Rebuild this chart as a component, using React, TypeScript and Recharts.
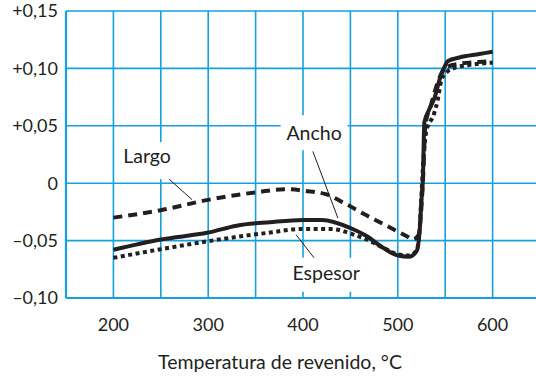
import {
  LineChart,
  Line,
  XAxis,
  YAxis,
  CartesianGrid,
  ReferenceDot,
  ReferenceLine,
  Label,
} from 'recharts';

// temperature (°C), dimensional change
const largo = [
  [200, -0.03], [250, -0.0235], [300, -0.0145], [350, -0.008], [382, -0.0052],
  [403, -0.0067], [424, -0.0096], [445, -0.018], [467, -0.028], [488, -0.037],
  [509, -0.046], [516, -0.049], [522, -0.045], [525, -0.02], [527, 0.01],
  [529, 0.05], [535, 0.068], [543, 0.09], [550, 0.1005], [565, 0.104],
  [585, 0.1055], [600, 0.1065],
];

const ancho = [
  [200, -0.058], [250, -0.049], [300, -0.043], [330, -0.037], [365, -0.034],
  [400, -0.032], [420, -0.032], [450, -0.039], [467, -0.046], [484, -0.056],
  [500, -0.063], [512, -0.064], [520, -0.059], [523, -0.042], [525, -0.014],
  [526.5, 0.004], [528, 0.053], [533, 0.064], [539, 0.075], [544, 0.09],
  [548, 0.099], [553, 0.1065], [565, 0.1095], [586, 0.1125], [600, 0.1145],
];

const espesor = [
  [200, -0.065], [250, -0.0575], [300, -0.0505], [365, -0.043], [396, -0.04],
  [431, -0.04], [452, -0.0444], [467, -0.049], [484, -0.056], [500, -0.062],
  [512, -0.063], [520, -0.058], [523, -0.04], [525, -0.01], [527, 0.02],
  [530, 0.045], [538, 0.06], [542, 0.072], [546, 0.09], [552, 0.097],
  [560, 0.1005], [575, 0.103], [600, 0.105],
];

const xGrid = [150, 200, 250, 300, 350, 400, 450, 500, 550, 600, 650];
const xLabels = [200, 300, 400, 500, 600];
const yTicks = [-0.1, -0.05, 0, 0.05, 0.1, 0.15];
const yLabels = ['–0,10', '–0,05', '0', '+0,05', '+0,10', '+0,15'];

const toRows = (pts: number[][]) => pts.map(([t, v]) => ({ t, v }));

const BLUE = '#16a1dd';
const INK = '#231f20';
const FONT = 'Lato, "Open Sans", sans-serif';

function TagBox(props: any) {
  const { cx, cy, text, w, h, dy = 0 } = props;
  return (
    <g>
      <rect x={cx - w / 2} y={cy - h / 2 + dy} width={w} height={h} fill="#fff" />
      <text
        x={cx}
        y={cy}
        dy="0.36em"
        textAnchor="middle"
        fontFamily={FONT}
        fontSize={19.5}
        fill={INK}
      >
        {text}
      </text>
    </g>
  );
}

export default function App() {
  return (
    <div
      style={{
        position: 'absolute',
        left: 0,
        top: 0,
        width: 536,
        height: 378,
        overflow: 'hidden',
        background: '#fff',
      }}
    >
      <LineChart
        width={545}
        height={378}
        margin={{ top: 11, right: 5, left: 0, bottom: 0 }}
      >
        <CartesianGrid stroke={BLUE} strokeWidth={1.6} />
        <XAxis
          type="number"
          dataKey="t"
          domain={[150, 650]}
          ticks={xGrid}
          interval={0}
          height={80}
          tickLine={false}
          tickMargin={14}
          axisLine={{ stroke: BLUE, strokeWidth: 2.2 }}
          tick={{ fill: INK, fontSize: 18, fontFamily: FONT }}
          tickFormatter={(v: number) => (xLabels.includes(v) ? String(v) : '')}
        >
          <Label
            value="Temperatura de revenido, °C"
            position="insideBottom"
            offset={9}
            dx={-23}
            fill={INK}
            fontSize={19.5}
            fontFamily={FONT}
          />
        </XAxis>
        <YAxis
          type="number"
          domain={[-0.1, 0.15]}
          ticks={yTicks}
          interval={0}
          width={66}
          tickLine={false}
          axisLine={{ stroke: BLUE, strokeWidth: 2.2 }}
          tick={{ fill: INK, fontSize: 18, fontFamily: FONT }}
          tickFormatter={(v: number) => yLabels[yTicks.findIndex((t) => Math.abs(t - v) < 1e-9)] ?? ''}
        />

        <ReferenceDot
          x={235.5}
          y={0.024}
          ifOverflow="visible"
          shape={(p: any) => <TagBox {...p} text="Largo" w={62} h={37} dy={5} />}
        />
        <ReferenceDot
          x={411.7}
          y={0.044}
          ifOverflow="visible"
          shape={(p: any) => <TagBox {...p} text="Ancho" w={67} h={35} />}
        />
        <ReferenceDot
          x={424.4}
          y={-0.078}
          ifOverflow="visible"
          shape={(p: any) => <TagBox {...p} text="Espesor" w={80} h={34} dy={2} />}
        />

        <ReferenceLine
          segment={[{ x: 251.3, y: 0.0091 }, { x: 283, y: -0.0144 }]}
          stroke={INK}
          strokeWidth={1}
        />
        <ReferenceLine
          segment={[{ x: 410.4, y: 0.0277 }, { x: 436.8, y: -0.0303 }]}
          stroke={INK}
          strokeWidth={1}
        />
        <ReferenceLine
          segment={[{ x: 392.7, y: -0.0449 }, { x: 414.6, y: -0.0681 }]}
          stroke={INK}
          strokeWidth={1}
        />

        <Line
          data={toRows(largo)}
          dataKey="v"
          type="monotone"
          stroke={INK}
          strokeWidth={4}
          strokeDasharray="9 6"
          dot={false}
          isAnimationActive={false}
        />
        <Line
          data={toRows(espesor)}
          dataKey="v"
          type="monotone"
          stroke={INK}
          strokeWidth={4}
          strokeDasharray="4 3.5"
          dot={false}
          isAnimationActive={false}
        />
        <Line
          data={toRows(ancho)}
          dataKey="v"
          type="monotone"
          stroke={INK}
          strokeWidth={4}
          dot={false}
          isAnimationActive={false}
        />
      </LineChart>
    </div>
  );
}
